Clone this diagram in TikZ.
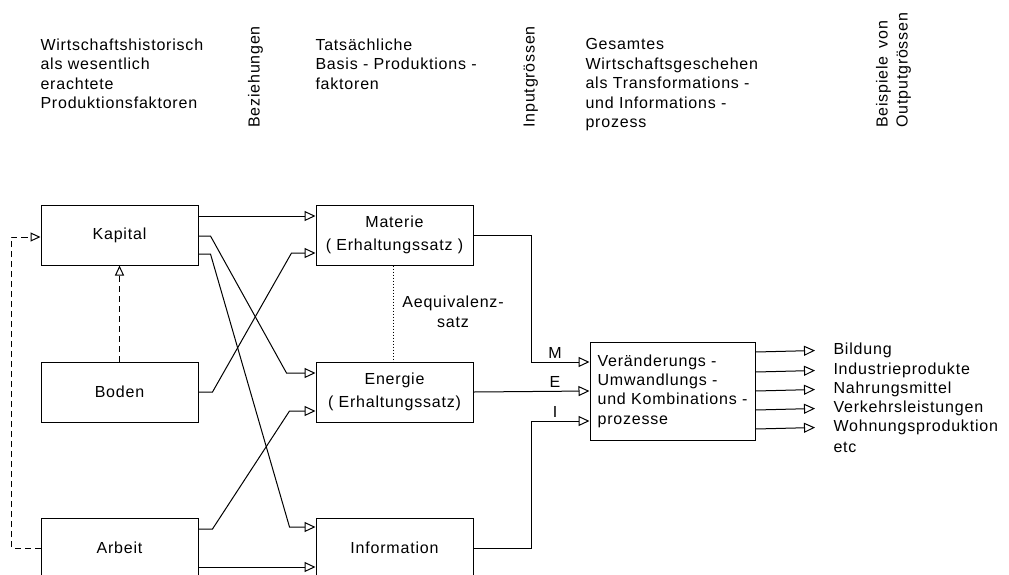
\documentclass[tikz,border=0pt]{standalone}
\usepackage{fontspec}
\setmainfont{Liberation Sans}[LetterSpace=5]
\usetikzlibrary{arrows.meta}
\begin{document}
\begin{tikzpicture}[x=1pt,y=-1pt,line width=1pt,
  font=\fontsize{16}{19.5}\selectfont,
  box/.style={draw,minimum width=157pt,minimum height=60pt,inner sep=0pt,align=center,
    font=\fontsize{16}{23}\selectfont},
  arr/.style={-{Triangle[open,length=11pt,width=10pt]}},
  darr/.style={dash pattern=on 6pt off 4pt,-{Triangle[open,length=10pt,width=9pt]}},
  head/.style={anchor=north west,inner sep=0pt,align=left},
  vhead/.style={rotate=90,anchor=mid west,inner sep=0pt},
  lbl/.style={anchor=mid west,inner sep=0pt},
  io/.style={inner sep=0pt}]
\useasboundingbox (0,0) rectangle (1009,574);
\clip (0,0) rectangle (1009,574);
% headers
\node[head] (h1) at (40,38) {Wirtschaftshistorisch\\als wesentlich\\erachtete\\Produktionsfaktoren};
\node[vhead] (h2) at (257,128) {Beziehungen};
\node[head] (h3) at (315,38) {Tatsächliche\\Basis - Produktions -\\faktoren};
\node[vhead] (h4) at (532,128) {Inputgrössen};
\node[head] (h5) at (585,38) {Gesamtes\\Wirtschaftsgeschehen\\als Transformations -\\und Informations -\\prozess};
\node[vhead] (h6) at (885,128) {Beispiele\enspace von};
\node[vhead] (h7) at (905,128) {Outputgrössen};
% boxes
\node[box] (kap) at (119.5,235) {Kapital};
\node[box] (bod) at (119.5,392) {Boden};
\node[box] (arb) at (119.5,548) {Arbeit};
\node[box] (mat) at (394.5,235) {Materie\\( Erhaltungssatz )};
\node[box] (ene) at (394.5,392) {Energie\\( Erhaltungssatz)};
\node[box] (inf) at (394.5,548) {Information};
\node[draw,minimum width=165pt,minimum height=98pt,inner sep=0pt,align=left,
  font=\fontsize{16}{19.3}\selectfont] (pro) at (672.5,391)
  {Veränderungs -\\Umwandlungs -\\und Kombinations -\\prozesse};
% left to middle
\draw[arr] ([yshift=19pt]kap.east) -- ([yshift=19pt]mat.west);
\draw[arr] ([yshift=-1pt]kap.east) -- ++(12,0) -- ([xshift=-29pt,yshift=19pt]ene.west) -- ([yshift=19pt]ene.west);
\draw[arr] ([yshift=-19pt]kap.east) -- ++(12,0) -- ([xshift=-26pt,yshift=21pt]inf.west) -- ([yshift=21pt]inf.west);
\draw[arr] (bod.east) -- ++(14,0) -- ([xshift=-24pt,yshift=-18pt]mat.west) -- ([yshift=-18pt]mat.west);
\draw[arr] ([yshift=19pt]arb.east) -- ++(14,0) -- ([xshift=-26pt,yshift=-19pt]ene.west) -- ([yshift=-19pt]ene.west);
\draw[arr] ([yshift=-19pt]arb.east) -- ([yshift=-19pt]inf.west);
% dashed feedback
\draw[darr] (arb.west) -- ++(-29,0) |- ([yshift=-2pt]kap.west);
\draw[darr] (bod.north) -- (kap.south);
% equivalence
\draw[dotted] ([xshift=-1.5pt]mat.south) -- ([xshift=-1.5pt]ene.north);
\node[align=center,inner sep=0pt] (aeq) at (453,312) {Aequivalenz-\\satz};
% middle to process
\draw[arr] (mat.east) -| ([xshift=-58pt,yshift=29pt]pro.west) -- ([yshift=29pt]pro.west);
\draw[arr] (ene.east) -- (pro.west);
\draw[arr] (inf.east) -| ([xshift=-58pt,yshift=-30pt]pro.west) -- ([yshift=-30pt]pro.west);
\node[io] (lm) at (555,353) {M};
\node[io] (le) at (555,382) {E};
\node[io] (li) at (555,412) {I};
% outputs
\node[lbl] (o1) at (833,352) {Bildung};
\node[lbl] (o2) at (833,372) {Industrieprodukte};
\node[lbl] (o3) at (833,391) {Nahrungsmittel};
\node[lbl] (o4) at (833,410) {Verkehrsleistungen};
\node[lbl] (o5) at (833,429) {Wohnungsproduktion};
\node[lbl] (o6) at (833,450) {etc};
\draw[arr] ([yshift=39pt]pro.east) -- ([xshift=-18pt]o1.west);
\draw[arr] ([yshift=19pt]pro.east) -- ([xshift=-18pt]o2.west);
\draw[arr] (pro.east) -- ([xshift=-18pt]o3.west);
\draw[arr] ([yshift=-19pt]pro.east) -- ([xshift=-18pt]o4.west);
\draw[arr] ([yshift=-38pt]pro.east) -- ([xshift=-18pt]o5.west);
\end{tikzpicture}
\end{document}
